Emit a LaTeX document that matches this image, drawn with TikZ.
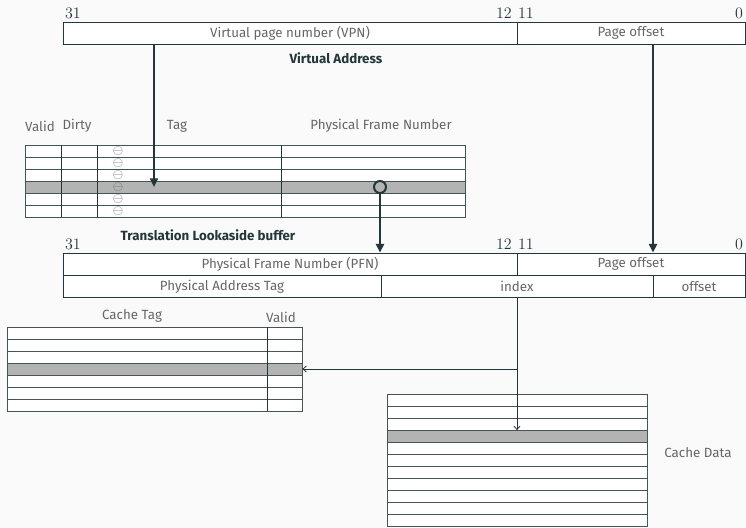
\documentclass[tikz,border=0pt]{standalone}
\usepackage{fontspec}
\setmainfont{Fira Sans}
\usepackage{tikz}
\usetikzlibrary{arrows.meta,positioning,calc}
\usepackage{xcolor}
\definecolor{mteal}{HTML}{23373B}
\definecolor{txtgray}{HTML}{666666}
\definecolor{hl}{HTML}{B3B3B3}
\definecolor{bgpaper}{HTML}{FAFAFA}

\begin{document}
\begin{tikzpicture}[
    x=0.75pt, y=-0.75pt,
    field/.style={
        rectangle, draw=mteal, line width=0.6pt, fill=white,
        inner sep=0pt, minimum height=16.5pt,
        text centered, text=txtgray, font=\normalsize
    },
    row/.style={
        rectangle, draw=mteal!85, line width=0.6pt, fill=white,
        inner sep=0pt, minimum height=9pt
    },
    selrow/.style={row, fill=hl},
    tlbrow/.style={minimum width=330pt},
    ctagrow/.style={minimum width=221.25pt},
    cdatrow/.style={minimum width=195pt},
    head/.style={text=txtgray, font=\normalsize},
    title/.style={text=mteal, font=\normalsize\bfseries},
    bitno/.style={text=mteal, font=\large},
    sym/.style={text=txtgray, inner sep=0pt, font=\normalsize},
    coldiv/.style={draw=mteal, line width=0.6pt},
    bigarr/.style={-{Triangle[width=6pt,length=6.5pt]}, line width=1.5pt, color=mteal},
    thinarr/.style={-{Straight Barb[width=4.5pt,length=2.5pt]}, line width=0.6pt, color=mteal}
]
    % Page and margins
    \useasboundingbox[fill=bgpaper] (0,0) rectangle (746,528);

    % Virtual address
    \node[bitno] (va31) at (73,13) {$31$};
    \node[bitno] (va12) at (504,13) {$12$};
    \node[bitno] (va11) at (526,13) {$11$};
    \node[bitno] (va0) at (739,13) {$0$};
    \node[field, minimum width=340.5pt] (vpn) at (290,33) {Virtual page number (VPN)};
    \node[field, minimum width=171pt] (vpo) at (631,33) {Page offset};
    \node[title] (vatitle) at (336,58) {Virtual Address};

    % TLB headers
    \node[head] (hvalid) at (40,126) {Valid};
    \node[head] (hdirty) at (77,126) {Dirty};
    \node[head] (htag) at (177,126) {Tag};
    \node[head] (hpfn) at (381,126) {Physical Frame Number};

    % TLB rows
    \foreach \i/\s in {1/row,2/row,3/row,4/selrow,5/row,6/row} {
        \node[\s, tlbrow] (tlb\i) at (245,139+12*\i) {};
        \node[sym] (tlbsym\i) at (118,139+12*\i) {$\ominus$};
    }
    \foreach \cx in {61,97,281}
        \draw[coldiv] (\cx,145) -- (\cx,217);
    \node[title] (tlbtitle) at (208,235) {Translation Lookaside buffer};

    % Matched PFN entry
    \node[circle, draw=mteal, line width=1.5pt, minimum size=9pt, inner sep=0pt] (pfnsel) at (380,187) {};

    % Physical address
    \node[bitno] (pa31) at (73,244) {$31$};
    \node[bitno] (pa12) at (504,244) {$12$};
    \node[bitno] (pa11) at (526,244) {$11$};
    \node[bitno] (pa0) at (739,244) {$0$};
    \node[field, minimum width=340.5pt] (pfn) at (290,264) {Physical Frame Number (PFN)};
    \node[field, minimum width=171pt] (ppo) at (631,264) {Page offset};
    \node[field, minimum width=238.5pt, minimum height=17pt] (ptag) at (222,286.5) {Physical Address Tag};
    \node[field, minimum width=204pt, minimum height=17pt] (pidx) at (517,286.5) {index};
    \node[field, minimum width=69pt, minimum height=17pt] (poffs) at (699,286.5) {offset};

    % Cache tag array
    \node[head] (hctag) at (132,316) {Cache Tag};
    \node[head] (hcvalid) at (281,317) {Valid};
    \foreach \i/\s in {1/row,2/row,3/row,4/selrow,5/row,6/row,7/row}
        \node[\s, ctagrow] (ctag\i) at (154.5,321+12*\i) {};
    \draw[coldiv] (267,327) -- (267,411);

    % Cache data array
    \foreach \i/\s in {1/row,2/row,3/row,4/selrow,5/row,6/row,7/row,8/row,9/row,10/row,11/row}
        \node[\s, cdatrow] (cdat\i) at (517,388.5+12*\i) {};
    \node[head] (hcdata) at (698,453) {Cache Data};

    % Translation arrows
    \coordinate (vpnout) at (154,44);
    \coordinate (poout) at (653,44);
    \draw[bigarr] (vpnout) -- (vpnout |- tlb4.center);
    \draw[bigarr] (pfnsel.south) -- (pfnsel.south |- pfn.north);
    \draw[bigarr] (poout) -- (poout |- ppo.north);

    % Index lookup
    \draw[thinarr] (pidx.south) |- (ctag4.east);
    \draw[thinarr] (pidx.south) -- (pidx.south |- cdat4.north);

\end{tikzpicture}
\end{document}
